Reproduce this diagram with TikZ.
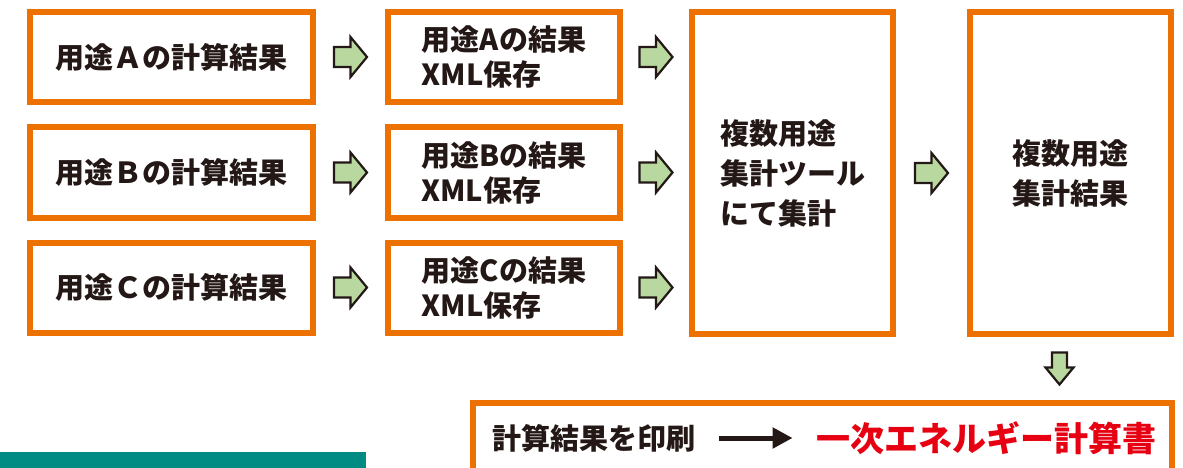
\documentclass[tikz,border=0pt]{standalone}
\usepackage{fontspec}
\newfontfamily\jp{Noto Sans CJK JP}
\usetikzlibrary{calc,arrows.meta}
\definecolor{orng}{RGB}{237,113,0}
\definecolor{ink}{RGB}{35,24,21}
\definecolor{grn}{RGB}{184,216,160}
\definecolor{tealc}{RGB}{0,140,130}
\definecolor{redc}{RGB}{230,0,18}
\begin{document}
\begin{tikzpicture}[x=1pt,y=-1pt,
  box/.style={draw=orng, line width=6pt, fill=white, inner sep=0pt, text=ink,
    font=\jp\bfseries\fontsize{29}{35}\selectfont},
  colA/.style={box, minimum width=283pt, minimum height=90pt},
  colB/.style={box, minimum width=232pt, minimum height=90pt, align=left},
  tall/.style={box, minimum width=201pt, minimum height=322pt, align=left,
    font=\jp\bfseries\fontsize{29}{40}\selectfont},
  garrow/.style={fill=grn, draw=ink, line width=2.2pt, line join=miter},
  rarr/.pic={\draw[garrow] (-16.5,-10) -- (0,-10) -- (0,-20) -- (16.5,0) -- (0,20) -- (0,10) -- (-16.5,10) -- cycle;},
  darr/.pic={\draw[garrow] (-7.5,-16) -- (7.5,-16) -- (7.5,-1) -- (14,-1) -- (0,16) -- (-14,-1) -- (-7.5,-1) -- cycle;},
  plain/.style={inner sep=0pt, font=\jp\bfseries\fontsize{29}{35}\selectfont, text=ink}
]
\useasboundingbox (0,0) rectangle (1183,468);
\clip (0,0) rectangle (1183,468);
\fill[white] (0,0) rectangle (1183,468);

\node[colA] (a1) at (171.5,57) {用途Ａの計算結果};
\node[colA] (b1) at (171.5,172.5) {用途Ｂの計算結果};
\node[colA] (c1) at (171.5,287.5) {用途Ｃの計算結果};

\node[colB] (a2) at (504,57) {用途Aの結果\\XML保存};
\node[colB] (b2) at (504,172.5) {用途Bの結果\\XML保存};
\node[colB] (c2) at (504,287.5) {用途Cの結果\\XML保存};

\node[tall] (tool) at (792.5,173) {複数用途\\集計ツール\\にて集計};
\node[tall] (res) at (1070.5,173) {複数用途\\集計結果};

\node[draw=orng, line width=6pt, fill=white, minimum width=699pt, minimum height=97pt, inner sep=0pt] (bottom) at (822.5,451.5) {};
\node[plain, anchor=west] (print) at (492,438) {計算結果を印刷};
\node[plain, anchor=east, text=redc, font=\jp\bfseries\fontsize{34}{40}\selectfont] (doc) at (1157,438) {一次エネルギー計算書};
\draw[ink, line width=5pt, -{Triangle[length=20pt,width=20pt]}, shorten <=24pt, shorten >=24pt] (print.east) -- (doc.west);

\node[fill=tealc, minimum width=366pt, minimum height=30pt, inner sep=0pt, anchor=north west] (label) at (0,452) {};

\pic at ($(a1.east)!0.5!(a2.west)$) {rarr};
\pic at ($(b1.east)!0.5!(b2.west)$) {rarr};
\pic at ($(c1.east)!0.5!(c2.west)$) {rarr};
\pic at ($(a2.east)!0.5!(a2.east -| tool.west)$) {rarr};
\pic at ($(b2.east)!0.5!(b2.east -| tool.west)$) {rarr};
\pic at ($(c2.east)!0.5!(c2.east -| tool.west)$) {rarr};
\pic at ($(tool.east)!0.5!(res.west)$) {rarr};
\pic at ($($(res.south)!0.5!(res.south |- bottom.north)$) + (-11,0)$) {darr};
\end{tikzpicture}
\end{document}
